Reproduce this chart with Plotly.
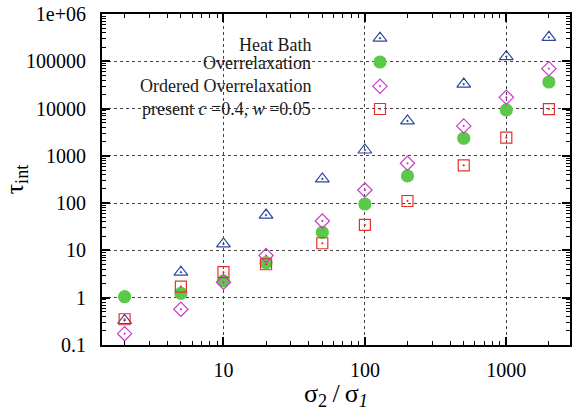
import plotly.graph_objects as go
import math

# ---- data ----
ratio = [2, 5, 10, 20, 50, 100, 200, 500, 1000, 2000]
heat_bath = [0.33, 3.46, 13.7, 56, 325, 1330, 5470, 33000, 125000, 321000]
overrelax = [1.05, 1.24, 2.27, 5.5, 24, 96, 376, 2355, 9340, 36500]
ordered_or = [0.174, 0.57, 2.12, 7.8, 42, 190, 697, 4290, 17300, 69800]
present = [0.35, 1.72, 3.46, 5.1, 14.2, 34.6, 111, 632, 2425, 9770]

series_names = ["Heat Bath", "Overrelaxation", "Ordered Overrelaxation",
                "present <i>c</i> =0.4, <i>w</i> =0.05"]
ytick_vals = [0.1, 1, 10, 100, 1000, 10000, 100000, 1000000]
ytick_text = ["0.1", "1", "10", "100", "1000", "10000", "100000", "1e+06"]
xtick_vals = [10, 100, 1000]
xtick_text = ["10", "100", "1000"]

# ---- styles ----
FONT = "Liberation Serif"
styles = [
    dict(symbol="triangle-up-open-dot", color="#2e46a0", size=12),
    dict(symbol="circle", color="#5cc84a", size=12),
    dict(symbol="diamond-open-dot", color="#c83cc8", size=11),
    dict(symbol="square-open-dot", color="#e8302a", size=11),
]
series = [heat_bath, overrelax, ordered_or, present]

fig = go.Figure()
for vals, st in zip(series, styles):
    fig.add_trace(go.Scatter(
        x=ratio, y=vals, mode="markers", showlegend=False,
        marker=dict(symbol=st["symbol"], size=st["size"], color=st["color"],
                    line=dict(width=1.2, color=st["color"])),
        xaxis="x", yaxis="y"))

# legend (gnuplot style: text right-aligned, sample to the right)
leg_text_x = 0.451
leg_sym_x = 0.594
leg_text_y = [0.906, 0.852, 0.781, 0.7145]
leg_sym_y = [0.927, 0.855, 0.782, 0.713]
for name, st, ty, sy in zip(series_names, styles, leg_text_y, leg_sym_y):
    fig.add_annotation(text=name, xref="paper", yref="paper", x=leg_text_x, y=ty,
                       xanchor="right", yanchor="middle", showarrow=False,
                       font=dict(family=FONT, size=18, color="#1a1a1a"))
    fig.add_trace(go.Scatter(
        x=[leg_sym_x], y=[sy], mode="markers", showlegend=False,
        marker=dict(symbol=st["symbol"], size=st["size"], color=st["color"],
                    line=dict(width=1.2, color=st["color"])),
        xaxis="x2", yaxis="y2"))

axis_common = dict(
    showline=True, linewidth=2, linecolor="black", mirror="ticks",
    ticks="inside", ticklen=8, tickwidth=1.5, tickcolor="black",
    showgrid=True, gridcolor="#444", griddash="dot", gridwidth=1,
    zeroline=False,
    tickfont=dict(family=FONT, size=20, color="black"),
    minor=dict(ticks="inside", ticklen=4, tickwidth=1.2, tickcolor="black",
               showgrid=False, dtick="D1"),
)

fig.update_layout(
    width=572, height=411,
    margin=dict(l=102, r=0, t=14, b=66),
    paper_bgcolor="white", plot_bgcolor="white",
    showlegend=False,
    xaxis=dict(type="log", range=[math.log10(1.384), math.log10(2820)],
               tickvals=xtick_vals, ticktext=xtick_text, ticklabelstandoff=6,
               title=dict(text="σ<sub>2</sub>\u2009/\u2009σ<sub><i>1</i></sub>",
                          font=dict(family=FONT, size=26, color="black"), standoff=6),
               **axis_common),
    yaxis=dict(type="log", range=[-1, 6],
               tickvals=ytick_vals, ticktext=ytick_text, ticklabelstandoff=10,
               title=dict(text="τ<sub>int</sub>",
                          font=dict(family=FONT, size=26, color="black"), standoff=8),
               **axis_common),
    xaxis2=dict(range=[0, 1], overlaying="x", visible=False, fixedrange=True),
    yaxis2=dict(range=[0, 1], overlaying="y", visible=False, fixedrange=True),
)

fig.write_html("out.html")
